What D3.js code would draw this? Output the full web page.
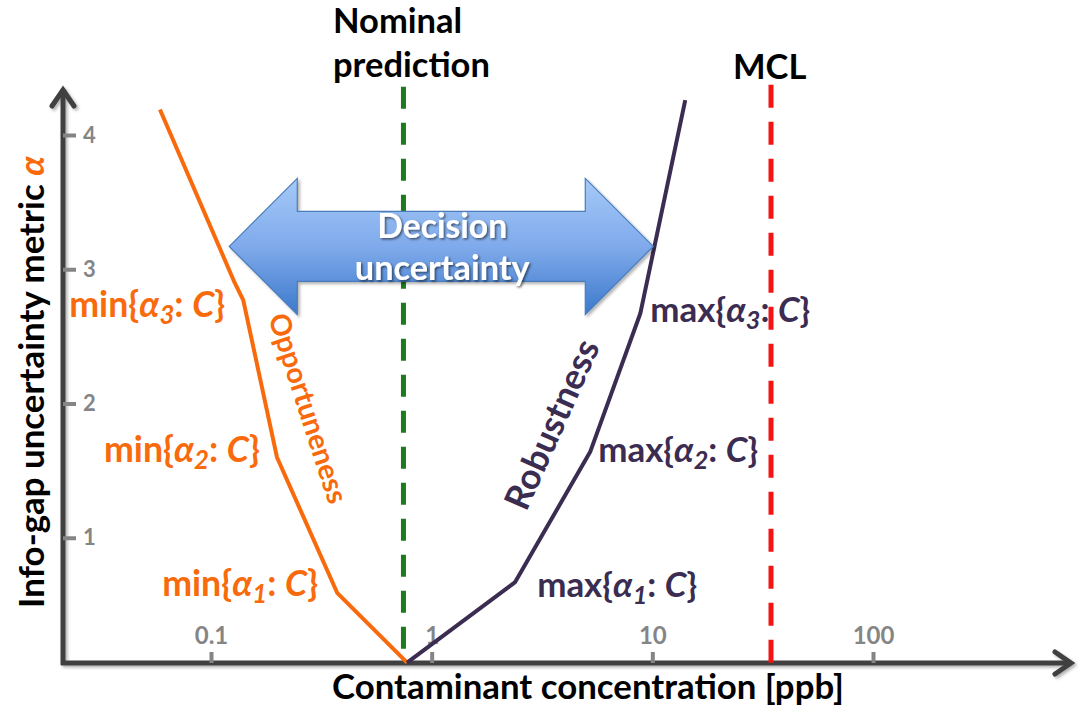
<!DOCTYPE html>
<html><head><meta charset="utf-8">
<script src="https://cdn.jsdelivr.net/npm/d3@7"></script>
<style>
body{margin:0;background:#fff}
svg{display:block}
text{font-family:Lato,"Open Sans",sans-serif}
</style>
</head><body>
<svg id="chart" width="1080" height="714"></svg>
<script>
// ---------------- data ----------------
const xTicks = [0.1, 1, 10, 100];
const xTickLabels = ["0.1", "1", "10", "100"];
const yTicks = [1, 2, 3, 4];
const yTickLabels = ["1", "2", "3", "4"];

// Opportuneness curve (concentration ppb, alpha)
const opportunenessC     = [0.0587, 0.128, 0.140, 0.199, 0.373, 0.774];
const opportunenessAlpha = [4.19,   2.90,  2.77,  1.60,  0.59,  0.07];
// Robustness curve
const robustnessC     = [0.774, 2.39, 5.23, 8.82, 14.1];
const robustnessAlpha = [0.07,  0.67, 1.64, 2.67, 4.26];

const nominalPrediction = 0.745;   // ppb
const mcl = 34.5;                  // ppb
const refLineTopAlpha = 4.36;
const arrowC = [0.121, 10.1];      // Decision-uncertainty arrow tips
const arrowAlpha = 3.17;

const minLabelSubs = ["3", "2", "1"];
const minLabelIdx  = [2, 3, 4];    // index on opportuneness curve
const maxLabelSubs = ["3", "2", "1"];
const maxLabelIdx  = [3, 2, 1];    // index on robustness curve

// ---------------- layout ----------------
const svg = d3.select("#chart");
const x = d3.scaleLog().domain([0.1, 100]).range([211, 873]);
const y = d3.scaleLinear().domain([0, 4]).range([672, 135]);
const axisY = 663, axisX = 63;
const ORANGE = "#f96a0c", PURPLE = "#3b2c52", GREY = "#858585", AX = "#404040";

const defs = svg.append("defs");
const sh = defs.append("filter").attr("id","sh").attr("x","-20%").attr("y","-20%").attr("width","140%").attr("height","140%");
sh.append("feDropShadow").attr("dx",2).attr("dy",2).attr("stdDeviation",1.5).attr("flood-color","#000").attr("flood-opacity",0.3);
const tsh = defs.append("filter").attr("id","tsh").attr("x","-20%").attr("y","-30%").attr("width","140%").attr("height","160%");
tsh.append("feDropShadow").attr("dx",1.5).attr("dy",1.5).attr("stdDeviation",1.2).attr("flood-color","#000").attr("flood-opacity",0.55);
const grad = defs.append("linearGradient").attr("id","ag").attr("x1",0).attr("y1",0).attr("x2",0).attr("y2",1);
grad.append("stop").attr("offset","0%").attr("stop-color","#a6c9f7");
grad.append("stop").attr("offset","50%").attr("stop-color","#7faaeb");
grad.append("stop").attr("offset","100%").attr("stop-color","#3d79cb");

function fit(sel, target){
  const w = sel.node().getComputedTextLength();
  const fs = parseFloat(sel.attr("font-size"));
  sel.attr("font-size", fs * target / w);
  return sel;
}

// ---------- axes ----------
const axG = svg.append("g").attr("filter","url(#sh)");
axG.append("line").attr("x1",axisX).attr("x2",axisX).attr("y1",89).attr("y2",axisY+2)
  .attr("stroke",AX).attr("stroke-width",5);
axG.append("line").attr("x1",axisX-2).attr("x2",1071).attr("y1",axisY).attr("y2",axisY)
  .attr("stroke",AX).attr("stroke-width",5);
axG.append("polyline").attr("points",`${axisX-11},106 ${axisX},90 ${axisX+11},106`)
  .attr("fill","none").attr("stroke",AX).attr("stroke-width",5).attr("stroke-linecap","round").attr("stroke-linejoin","miter");
axG.append("polyline").attr("points",`1055,652 1071,${axisY} 1055,674`)
  .attr("fill","none").attr("stroke",AX).attr("stroke-width",5).attr("stroke-linecap","round").attr("stroke-linejoin","miter");

// x ticks via d3 axis
const xAxis = d3.axisTop(x).tickValues(xTicks).tickFormat((d,i)=>xTickLabels[i]).tickSize(11).tickPadding(8);
const gx = svg.append("g").attr("transform",`translate(0,${axisY})`).call(xAxis)
  .attr("font-size",24).attr("font-family","Lato, sans-serif");
gx.select(".domain").remove();
gx.selectAll(".tick line").attr("stroke",GREY).attr("stroke-width",4);
gx.selectAll(".tick text").attr("fill",GREY).attr("font-size",24).attr("font-weight",700);

// y ticks via d3 axis
const yAxis = d3.axisRight(y).tickValues(yTicks).tickFormat((d,i)=>yTickLabels[i]).tickSize(13).tickPadding(7);
const gy = svg.append("g").attr("transform",`translate(${axisX},0)`).call(yAxis)
  .attr("font-size",22).attr("font-family","Lato, sans-serif");
gy.select(".domain").remove();
gy.selectAll(".tick line").attr("stroke",GREY).attr("stroke-width",4);
gy.selectAll(".tick text").attr("fill",GREY).attr("font-size",22).attr("font-weight",700);

// ---------- reference lines ----------
svg.append("line").attr("x1",x(nominalPrediction)).attr("x2",x(nominalPrediction))
  .attr("y1",y(refLineTopAlpha)).attr("y2",axisY)
  .attr("stroke","#1d7b1d").attr("stroke-width",5).attr("stroke-dasharray","22,14");
svg.append("line").attr("x1",x(mcl)).attr("x2",x(mcl))
  .attr("y1",y(refLineTopAlpha)+ -2).attr("y2",axisY)
  .attr("stroke","#f51414").attr("stroke-width",5).attr("stroke-dasharray","23,14");

// ---------- curves ----------
const line = d3.line().x(d=>x(d[0])).y(d=>y(d[1]));
svg.append("path").datum(opportunenessC.map((c,i)=>[c,opportunenessAlpha[i]]))
  .attr("d",line).attr("fill","none").attr("stroke",ORANGE).attr("stroke-width",4).attr("stroke-linejoin","round");
svg.append("path").datum(robustnessC.map((c,i)=>[c,robustnessAlpha[i]]))
  .attr("d",line).attr("fill","none").attr("stroke",PURPLE).attr("stroke-width",4).attr("stroke-linejoin","round");

// ---------- decision uncertainty arrow ----------
{
  const L = x(arrowC[0]), R = x(arrowC[1]), cy = y(arrowAlpha);
  const sH = 35, hH = 68, hL = 68;
  const pts = [[L,cy],[L+hL,cy-hH],[L+hL,cy-sH],[R-hL,cy-sH],[R-hL,cy-hH],[R,cy],
               [R-hL,cy+hH],[R-hL,cy+sH],[L+hL,cy+sH],[L+hL,cy+hH]];
  svg.append("polygon").attr("points",pts.map(p=>p.join(",")).join(" "))
    .attr("fill","url(#ag)").attr("stroke","#4a7dbd").attr("stroke-width",1.2).attr("filter","url(#sh)");
  const mid = (L+R)/2 + 1;
  const t1 = svg.append("text").attr("x",mid).attr("y",238).attr("text-anchor","middle")
    .attr("font-size",30).attr("font-weight",700).attr("fill","#fff").attr("filter","url(#tsh)").text("Decision");
  fit(t1,130);
  const t2 = svg.append("text").attr("x",mid).attr("y",280).attr("text-anchor","middle")
    .attr("font-size",30).attr("font-weight",700).attr("fill","#fff").attr("filter","url(#tsh)").text("uncertainty");
  fit(t2,175);
}

// ---------- curve labels ----------
function braceLabel(g, prefix, sub, color){
  const t = g.append("text").attr("fill",color).attr("font-weight",700).attr("font-size",26);
  t.append("tspan").text(prefix + "{");
  t.append("tspan").attr("font-style","italic").text("α");
  t.append("tspan").attr("font-style","italic").attr("font-size","0.72em").attr("dy","0.28em").text(sub);
  t.append("tspan").attr("dy","-0.2em").text(": ");
  t.append("tspan").attr("font-style","italic").text("C");
  t.append("tspan").text("}");
  return t;
}
const minOff = [[-18, 8],[-17,-4],[-19,-6]];
minLabelSubs.forEach((s,k)=>{
  const i = minLabelIdx[k];
  const t = braceLabel(svg, "min", s, ORANGE);
  fit(t,156);
  t.attr("text-anchor","end")
   .attr("x", x(opportunenessC[i]) + minOff[k][0])
   .attr("y", y(opportunenessAlpha[i]) + minOff[k][1] + 9);
});
const maxOff = [[10,-1],[8,1],[22,6]];
maxLabelSubs.forEach((s,k)=>{
  const i = maxLabelIdx[k];
  const t = braceLabel(svg, "max", s, PURPLE);
  fit(t,160);
  t.attr("text-anchor","start")
   .attr("x", x(robustnessC[i]) + maxOff[k][0])
   .attr("y", y(robustnessAlpha[i]) + maxOff[k][1] + 9);
});

// rotated curve names
const op = svg.append("text").attr("transform","translate(309,408) rotate(72)")
  .attr("text-anchor","middle").attr("dominant-baseline","central")
  .attr("font-size",27).attr("font-weight",700).attr("fill",ORANGE).text("Opportuneness");
fit(op,198);
const rb = svg.append("text").attr("transform","translate(551,424) rotate(-66)")
  .attr("text-anchor","middle").attr("dominant-baseline","central")
  .attr("font-size",27).attr("font-weight",700).attr("fill",PURPLE).text("Robustness");
fit(rb,182);

// ---------- titles ----------
const xt = svg.append("text").attr("x",588).attr("y",699).attr("text-anchor","middle")
  .attr("font-size",30).attr("font-weight",700).attr("fill","#000").text("Contaminant concentration [ppb]");
fit(xt,512);
const yt = svg.append("text").attr("transform","translate(44,382) rotate(-90)").attr("text-anchor","middle")
  .attr("font-size",30).attr("font-weight",700).attr("fill","#000");
yt.append("tspan").text("Info-gap uncertainty metric ");
yt.append("tspan").attr("fill",ORANGE).attr("font-style","italic").text("α");
fit(yt,452);

const np = svg.append("text").attr("x",333).attr("y",77).attr("font-size",30).attr("font-weight",700)
  .attr("fill","#000").text("prediction");
fit(np,157);
const fsz = np.attr("font-size");
svg.append("text").attr("x",333).attr("y",33).attr("font-size",fsz).attr("font-weight",700)
  .attr("fill","#000").text("Nominal");
svg.append("text").attr("x",733).attr("y",79).attr("font-size",fsz).attr("font-weight",700)
  .attr("fill","#000").text("MCL");
</script>
</body></html>
